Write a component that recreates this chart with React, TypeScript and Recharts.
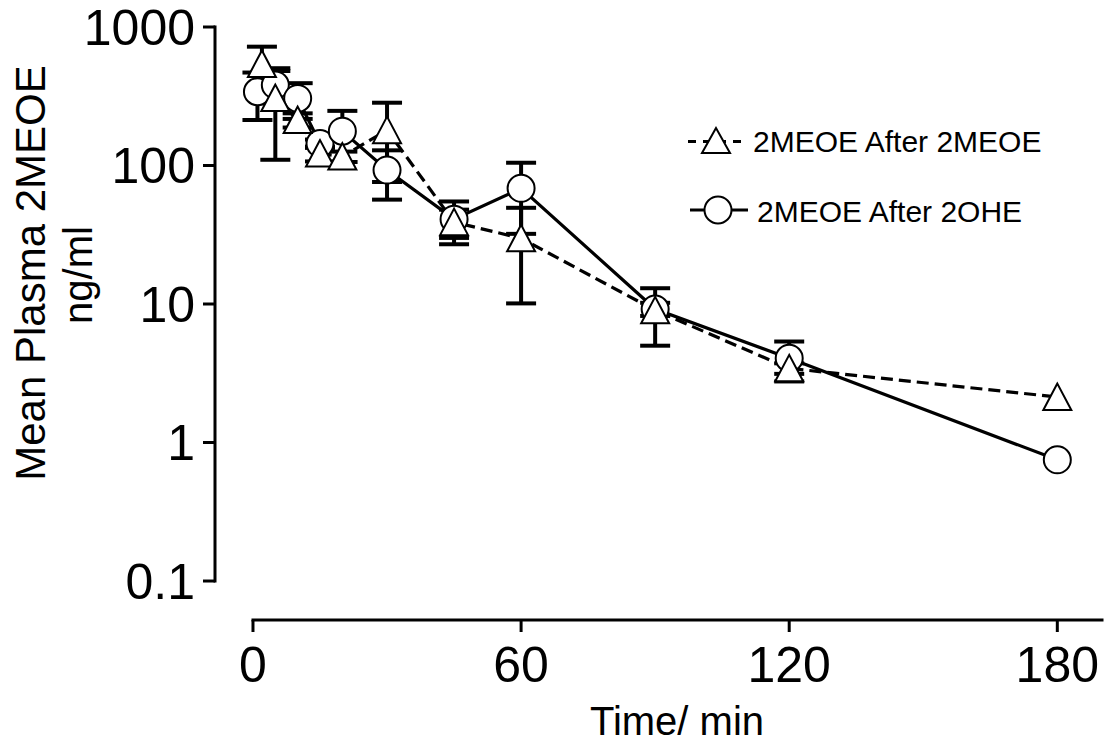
import React from 'react';
import { ComposedChart, Line, XAxis, YAxis, ErrorBar, ReferenceLine, Legend } from 'recharts';

// 2MEOE After 2MEOE (triangles, dashed)
const meoeTime = [2, 5, 10, 15, 20, 30, 45, 60, 90, 120, 180];
const meoeMean = [541, 307, 213, 122, 116, 180, 39, 29.8, 9.0, 3.43, 2.13];
const meoeSd = [180, 197, 25, 15, 10, 104, 9, 19.7, 4.0, 0.3, 0];

// 2MEOE After 2OHE (circles, solid)
const oheTime = [1, 5, 10, 15, 20, 30, 45, 60, 90, 120, 180];
const oheMean = [341, 381, 305, 144, 177, 92.7, 41, 68.4, 9.2, 4.06, 0.75];
const oheSd = [128, 100, 88, 10, 71, 36, 14, 36.3, 1.0, 1.3, 0];

const xTicks = [0, 60, 120, 180];
const yTicks = [0.1, 1, 10, 100, 1000];
const seriesNames = ['2MEOE After 2MEOE', '2MEOE After 2OHE'];

const X_MIN = -8.5;
const X_MAX = 190;
const Y_MIN = 0.0523;
const Y_MAX = 1000;

const meoeData = meoeTime.map((t, i) => ({ t, v: meoeMean[i], sd: meoeSd[i] }));
const oheData = oheTime.map((t, i) => ({ t, v: oheMean[i], sd: oheSd[i] }));

const FONT = '"Liberation Sans", Arial, sans-serif';

const TriangleShape = ({ cx, cy }: { cx: number; cy: number }) => (
  <polygon
    points={`${cx},${cy - 13.5} ${cx - 14},${cy + 13} ${cx + 14},${cy + 13}`}
    fill="#fff"
    stroke="#000"
    strokeWidth={2}
  />
);

const CircleShape = ({ cx, cy }: { cx: number; cy: number }) => (
  <circle cx={cx} cy={cy} r={13.5} fill="#fff" stroke="#000" strokeWidth={2} />
);

const renderTri = (p: any) => {
  if (p.cx == null || p.cy == null) return <g key={`t-${p.index}`} />;
  return <TriangleShape key={`t-${p.index}`} cx={p.cx} cy={p.cy} />;
};
const renderCirc = (p: any) => {
  if (p.cx == null || p.cy == null) return <g key={`c-${p.index}`} />;
  return <CircleShape key={`c-${p.index}`} cx={p.cx} cy={p.cy} />;
};

const LegendContent = () => (
  <svg width={430} height={140} style={{ display: 'block' }}>
    <line x1={8} y1={31.5} x2={65} y2={31.5} stroke="#000" strokeWidth={3} strokeDasharray="8 7" />
    <polygon points="36,18 22,43 50,43" fill="#fff" stroke="#000" strokeWidth={2} />
    <text x={73} y={42} fontSize={30} fontFamily={FONT} fill="#000">{seriesNames[0]}</text>
    <line x1={10} y1={100} x2={68} y2={100} stroke="#000" strokeWidth={3} />
    <CircleShape cx={38} cy={100} />
    <text x={77} y={112} fontSize={30} fontFamily={FONT} fill="#000">{seriesNames[1]}</text>
  </svg>
);

export default function App() {
  return (
    <div style={{ position: 'absolute', left: 0, top: 0, width: 1109, height: 748, background: '#fff' }}>
      <ComposedChart width={1109} height={748} margin={{ top: 27, right: 7, bottom: 48, left: 0 }}>
        <XAxis
          type="number"
          dataKey="t"
          domain={[X_MIN, X_MAX]}
          allowDataOverflow
          ticks={xTicks}
          interval={0}
          axisLine={false}
          tickLine={{ stroke: '#000', strokeWidth: 3 }}
          tickSize={12}
          tickMargin={14}
          height={80}
          tick={{ fontSize: 50, fill: '#000', fontFamily: FONT }}
          label={{
            content: () => (
              <text x={677} y={735} textAnchor="middle" fontSize={40} fontFamily={FONT} fill="#000">
                Time/ min
              </text>
            ),
          }}
        />
        <YAxis
          type="number"
          scale="log"
          domain={[Y_MIN, Y_MAX]}
          allowDataOverflow
          ticks={yTicks}
          interval={0}
          axisLine={false}
          tickLine={{ stroke: '#000', strokeWidth: 3 }}
          tickSize={12}
          tickMargin={8}
          width={215}
          tickFormatter={(v: number) => String(v)}
          tick={{ fontSize: 50, fill: '#000', fontFamily: FONT }}
          label={{
            content: () => (
              <g fontFamily={FONT} fontSize={42} fill="#000">
                <text x={45} y={273} textAnchor="middle" transform="rotate(-90 45 273)">
                  Mean Plasma 2MEOE
                </text>
                <text x={92} y={275} textAnchor="middle" fontSize={40} transform="rotate(-90 92 275)">
                  ng/ml
                </text>
              </g>
            ),
          }}
        />
        <ReferenceLine
          segment={[{ x: X_MIN, y: 0.1 }, { x: X_MIN, y: 1000 }]}
          stroke="#000"
          strokeWidth={3}
          strokeLinecap="square"
          ifOverflow="visible"
        />
        <ReferenceLine
          segment={[{ x: 0, y: Y_MIN }, { x: X_MAX, y: Y_MIN }]}
          stroke="#000"
          strokeWidth={3}
          strokeLinecap="square"
          ifOverflow="visible"
        />
        <Line
          data={oheData}
          dataKey="v"
          name={seriesNames[1]}
          type="linear"
          stroke="#000"
          strokeWidth={3.2}
          dot={renderCirc}
          activeDot={false}
          isAnimationActive={false}
        >
          <ErrorBar dataKey="sd" direction="y" width={15} stroke="#000" strokeWidth={4} />
        </Line>
        <Line
          data={meoeData}
          dataKey="v"
          name={seriesNames[0]}
          type="linear"
          stroke="#000"
          strokeWidth={3.2}
          strokeDasharray="12 6"
          dot={renderTri}
          activeDot={false}
          isAnimationActive={false}
        >
          <ErrorBar dataKey="sd" direction="y" width={15} stroke="#000" strokeWidth={4} />
        </Line>
        <Legend
          layout="vertical"
          align="center"
          verticalAlign="middle"
          content={LegendContent}
          wrapperStyle={{ position: 'absolute', left: 680, top: 110, width: 430, height: 140 }}
        />
      </ComposedChart>
    </div>
  );
}
